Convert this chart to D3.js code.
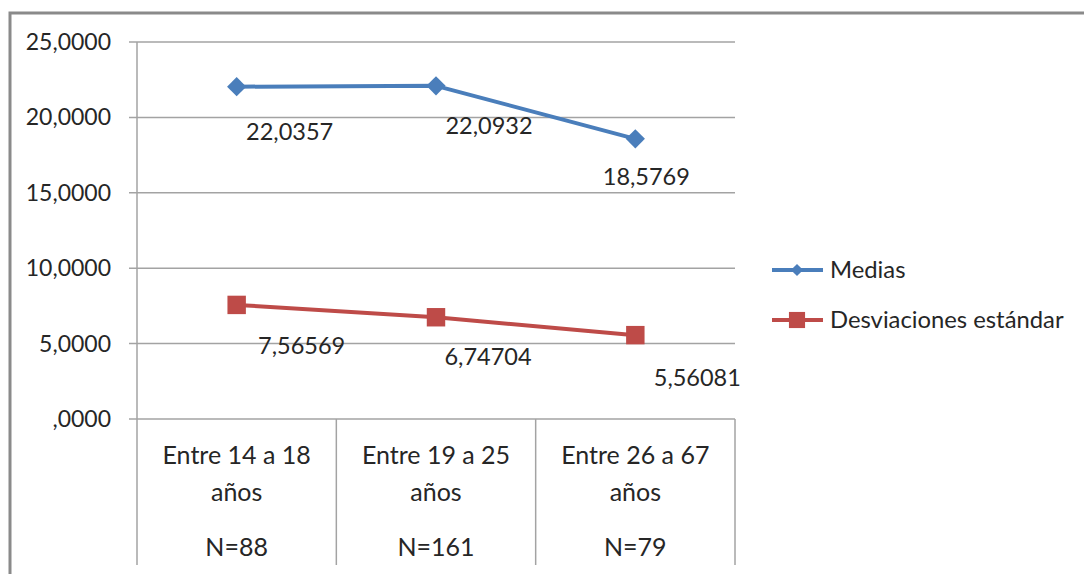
<!DOCTYPE html>
<html><head><meta charset="utf-8">
<script src="https://cdn.jsdelivr.net/npm/d3@7"></script>
<style>
html,body{margin:0;padding:0;background:#fff;}
svg{display:block;}
text{font-family:Lato,"Open Sans",sans-serif;fill:#262626;}
</style></head>
<body>
<svg id="chart" width="1084" height="574"></svg>
<script>
// ---- data ----
const categories = ["Entre 14 a 18 años", "Entre 19 a 25 años", "Entre 26 a 67 años"];
const categoryLines = [["Entre 14 a 18", "años", "N=88"], ["Entre 19 a 25", "años", "N=161"], ["Entre 26 a 67", "años", "N=79"]];
const medias = [22.0357, 22.0932, 18.5769];
const desviaciones = [7.56569, 6.74704, 5.56081];
const mediasLabels = ["22,0357", "22,0932", "18,5769"];
const desviacionesLabels = ["7,56569", "6,74704", "5,56081"];
const yTicks = [0, 5, 10, 15, 20, 25];
const yTickLabels = [",0000", "5,0000", "10,0000", "15,0000", "20,0000", "25,0000"];
const seriesNames = ["Medias", "Desviaciones estándar"];

// ---- layout ----
const W = 1084, H = 574;
const plot = {left: 137, right: 735, top: 42, bottom: 419};
const blue = "#4a7ebb", red = "#be4b48";
const gridColor = "#a3a3a3";
// label offsets (dx, dy-to-baseline) relative to each point, as placed in the original
const mediasOffsets = [[53, 53], [53, 48], [11, 46]];
const desvOffsets = [[65, 49], [52, 48], [62, 51]];

const svg = d3.select("#chart");

// outer frame (cut by the picture edge on the right and bottom)
svg.append("rect").attr("x", 10).attr("y", 13).attr("width", W + 20).attr("height", H + 20)
  .attr("fill", "none").attr("stroke", "#8a8a8a").attr("stroke-width", 3);

const x = d3.scaleBand().domain(categories).range([plot.left, plot.right]).padding(0);
const y = d3.scaleLinear().domain([0, 25]).range([plot.bottom, plot.top]);
const cx = d => x(d) + x.bandwidth() / 2;

// horizontal gridlines with left ticks
svg.append("g").selectAll("line").data(yTicks).join("line")
  .attr("x1", plot.left - 8).attr("x2", plot.right)
  .attr("y1", d => y(d)).attr("y2", d => y(d))
  .attr("stroke", gridColor).attr("stroke-width", 1.5);

// y tick labels
svg.append("g").selectAll("text").data(yTicks).join("text")
  .attr("x", 111).attr("y", d => y(d) + 8)
  .attr("text-anchor", "end").attr("font-size", 23)
  .text((d, i) => yTickLabels[i]);

// y axis line
svg.append("line").attr("x1", plot.left).attr("x2", plot.left)
  .attr("y1", plot.top).attr("y2", 565).attr("stroke", gridColor).attr("stroke-width", 1.5);

// category dividers
const edges = categories.map(c => x(c) + x.bandwidth());
svg.append("g").selectAll("line").data(edges).join("line")
  .attr("x1", d => d).attr("x2", d => d)
  .attr("y1", plot.bottom).attr("y2", 565)
  .attr("stroke", gridColor).attr("stroke-width", 1.5);

// category labels
const lineY = [464, 501, 556];
const catG = svg.append("g").selectAll("g").data(categories).join("g");
catG.each(function(c, i) {
  d3.select(this).selectAll("text").data(categoryLines[i]).join("text")
    .attr("x", cx(c)).attr("y", (t, j) => lineY[j])
    .attr("text-anchor", "middle").attr("font-size", 25)
    .text(t => t);
});

// series
const lineGen = d3.line().x((d, i) => cx(categories[i])).y(d => y(d));
const diamond = d3.symbol(d3.symbolSquare, 185);
const square = d3.symbol(d3.symbolSquare, 340);

svg.append("path").datum(medias).attr("d", lineGen)
  .attr("fill", "none").attr("stroke", blue).attr("stroke-width", 4).attr("stroke-linejoin", "round");
svg.append("path").datum(desviaciones).attr("d", lineGen)
  .attr("fill", "none").attr("stroke", red).attr("stroke-width", 4).attr("stroke-linejoin", "round");

svg.append("g").selectAll("path").data(medias).join("path")
  .attr("d", diamond)
  .attr("transform", (d, i) => `translate(${cx(categories[i])},${y(d)}) rotate(45)`)
  .attr("fill", blue);
svg.append("g").selectAll("path").data(desviaciones).join("path")
  .attr("d", square)
  .attr("transform", (d, i) => `translate(${cx(categories[i])},${y(d)})`)
  .attr("fill", red);

// data labels
svg.append("g").selectAll("text").data(medias).join("text")
  .attr("x", (d, i) => cx(categories[i]) + mediasOffsets[i][0])
  .attr("y", (d, i) => y(d) + mediasOffsets[i][1])
  .attr("text-anchor", "middle").attr("font-size", 23.5)
  .text((d, i) => mediasLabels[i]);
svg.append("g").selectAll("text").data(desviaciones).join("text")
  .attr("x", (d, i) => cx(categories[i]) + desvOffsets[i][0])
  .attr("y", (d, i) => y(d) + desvOffsets[i][1])
  .attr("text-anchor", "middle").attr("font-size", 23.5)
  .text((d, i) => desviacionesLabels[i]);

// legend
const legendY = [270, 320];
const legendColors = [blue, red];
const leg = svg.append("g").selectAll("g").data(seriesNames).join("g")
  .attr("transform", (d, i) => `translate(0,${legendY[i]})`);
leg.append("line").attr("x1", 772).attr("x2", 823).attr("y1", 0).attr("y2", 0)
  .attr("stroke", (d, i) => legendColors[i]).attr("stroke-width", 4);
leg.append("path")
  .attr("d", (d, i) => i === 0 ? d3.symbol(d3.symbolSquare, 75)() : d3.symbol(d3.symbolSquare, 260)())
  .attr("transform", (d, i) => i === 0 ? "translate(797,0) rotate(45)" : "translate(797,0)")
  .attr("fill", (d, i) => legendColors[i]);
leg.append("text").attr("x", 830).attr("y", 8).attr("font-size", 23.8)
  .text(d => d);
</script>
</body></html>
